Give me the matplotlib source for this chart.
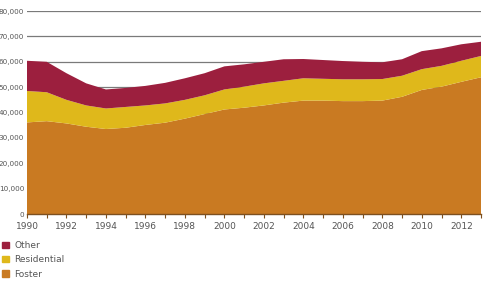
import matplotlib.pyplot as plt
from matplotlib.patches import Patch
import numpy as np

years = np.arange(1990, 2014)
# stacked tops
foster = [36100, 36600, 35700, 34400, 33500, 34000, 35100, 36000, 37600, 39400,
          41200, 41900, 42800, 43900, 44700, 44700, 44500, 44500, 44700, 46200,
          48900, 50200, 52100, 53900]
residential_top = [48500, 48000, 45000, 42800, 41600, 42200, 42800, 43600, 45000, 46800,
                   49100, 50200, 51500, 52500, 53500, 53300, 53100, 53100, 53200, 54500,
                   57100, 58400, 60400, 62300]
total = [60400, 60000, 55500, 51500, 49100, 49700, 50500, 51700, 53500, 55500,
         58200, 59000, 60000, 61000, 61100, 60700, 60300, 60000, 59800, 61000,
         64200, 65300, 66900, 67900]

residential = np.array(residential_top) - np.array(foster)
other = np.array(total) - np.array(residential_top)

labels = ["Foster", "Residential", "Other"]
colors = ["#c97a22", "#dfb81b", "#9c1f3e"]

fig = plt.figure(figsize=(4.87, 2.91), dpi=100)
ax = fig.add_axes([0.0554, 0.2646, 0.9323, 0.6974])

ax.stackplot(years, foster, residential, other, colors=colors, linewidth=0, zorder=2)

ax.set_xlim(1990, 2013)
ax.set_ylim(0, 80000)
ax.set_yticks(np.arange(0, 80001, 10000))
ax.set_yticklabels(["0"] + [f"{v:,}" for v in range(10000, 80001, 10000)])
ax.set_xticks(np.arange(1990, 2013, 2))
ax.set_xticks(np.arange(1990, 2014, 1), minor=True)
ax.yaxis.grid(True, color="#7a7a7a", linewidth=0.9, zorder=1)
ax.set_axisbelow(True)

for s in ["top", "right", "left"]:
    ax.spines[s].set_visible(False)
ax.spines["bottom"].set_color("#7d5020")
ax.spines["bottom"].set_linewidth(1.0)
ax.spines["bottom"].set_zorder(3)

ax.tick_params(axis="y", length=0, pad=2, labelsize=5.2, labelcolor="#555555")
ax.tick_params(axis="x", which="both", direction="out", length=3, width=0.8,
               color="#7d5020", labelsize=6.5, labelcolor="#555555", pad=3)

handles = [Patch(color=c, label=l) for c, l in zip(colors[::-1], labels[::-1])]
fig.legend(handles=handles, loc="upper left", bbox_to_anchor=(-0.012, 0.2),
           frameon=False, fontsize=6.5, handlelength=0.7, handleheight=0.7,
           handletextpad=0.6, labelspacing=0.6, labelcolor="#555555")

fig.savefig("out.png", dpi=100)
